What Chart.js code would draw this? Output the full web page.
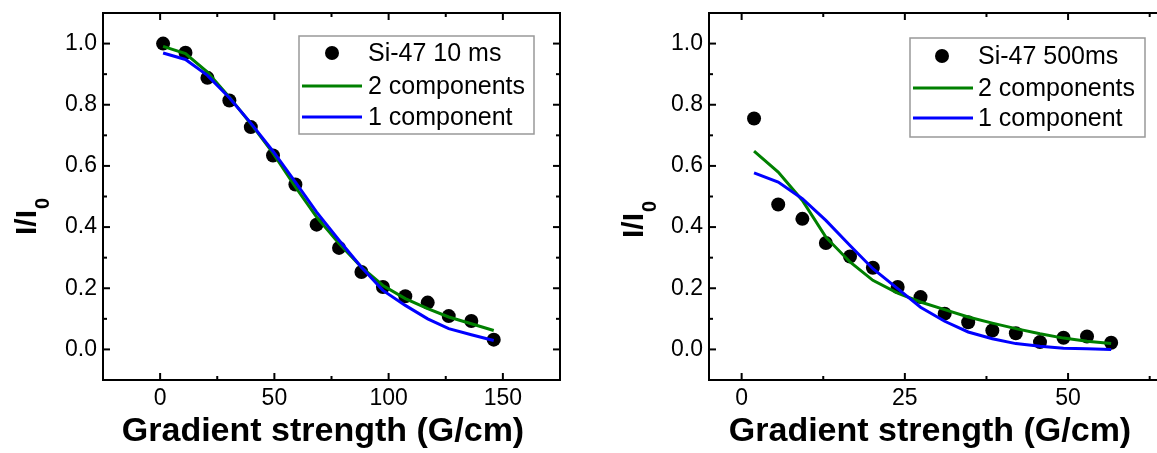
<!DOCTYPE html>
<html><head><meta charset="utf-8">
<script src="https://cdn.jsdelivr.net/npm/chart.js@4.4.1/dist/chart.umd.min.js"></script>
<style>
html,body{margin:0;padding:0;background:#fff;overflow:hidden;width:1157px;height:453px;position:relative;}
#c1{position:absolute;left:0;top:0;width:580px;height:453px;}
#c2{position:absolute;left:580px;top:0;width:600px;height:453px;}
</style></head><body>
<div id="c1"><canvas id="a"></canvas></div>
<div id="c2"><canvas id="b"></canvas></div>
<script>
// ---- Left panel: Si-47 10 ms ----
const leftX    = [1.3, 11.1, 20.7, 30.3, 39.7, 49.4, 59.2, 68.5, 78.3, 88.1, 97.5, 107.3, 117.1, 126.3, 136.2, 146.0];
const leftData = [1.000, 0.970, 0.888, 0.814, 0.727, 0.634, 0.539, 0.408, 0.332, 0.253, 0.204, 0.174, 0.153, 0.109, 0.093, 0.032];
const leftFit2 = [0.991, 0.967, 0.907, 0.825, 0.738, 0.642, 0.531, 0.433, 0.346, 0.269, 0.209, 0.166, 0.133, 0.106, 0.084, 0.062];
const leftFit1 = [0.969, 0.948, 0.896, 0.823, 0.740, 0.648, 0.547, 0.449, 0.357, 0.269, 0.193, 0.144, 0.100, 0.068, 0.048, 0.029];
const leftXTicks = [0, 50, 100, 150];
const leftXMinor = [25, 75, 125];

// ---- Right panel: Si-47 500ms ----
const rightX    = [1.9, 5.6, 9.3, 12.9, 16.6, 20.1, 23.9, 27.4, 31.1, 34.7, 38.4, 42.0, 45.7, 49.3, 52.9, 56.6];
const rightData = [0.755, 0.474, 0.427, 0.348, 0.304, 0.267, 0.204, 0.171, 0.117, 0.089, 0.062, 0.053, 0.024, 0.038, 0.042, 0.022];
const rightFit2 = [0.648, 0.580, 0.487, 0.367, 0.286, 0.226, 0.184, 0.155, 0.130, 0.106, 0.086, 0.068, 0.051, 0.037, 0.027, 0.019];
const rightFit1 = [0.577, 0.547, 0.493, 0.422, 0.340, 0.264, 0.199, 0.138, 0.092, 0.057, 0.035, 0.019, 0.010, 0.004, 0.002, 0.000];
const rightXTicks = [0, 25, 50];
const rightXMinor = [12.5, 37.5, 62.5];

// ---- shared ----
const yTicks = [0.0, 0.2, 0.4, 0.6, 0.8, 1.0];
const yMinor = [0.1, 0.3, 0.5, 0.7, 0.9];
const seriesNames = ['2 components', '1 component'];
const xTitleText = 'Gradient strength (G/cm)';
const yTitleMain = 'I/I';
const yTitleSub = '0';

const FONT = "'Liberation Sans', Arial, Helvetica, sans-serif";
Chart.defaults.color = '#000';
Chart.defaults.font.family = FONT;

const decor = {
  id: 'decor',
  afterDraw(chart, args, o) {
    const ctx = chart.ctx, ca = chart.chartArea;
    const xs = chart.scales.x, ys = chart.scales.y;
    ctx.save();
    ctx.strokeStyle = '#000';
    ctx.lineWidth = 2;
    ctx.lineCap = 'butt';
    const seg = (x0, y0, x1, y1) => { ctx.beginPath(); ctx.moveTo(x0, y0); ctx.lineTo(x1, y1); ctx.stroke(); };
    const xt = (v, len) => { const p = xs.getPixelForValue(v); seg(p, ca.bottom, p, ca.bottom - len); seg(p, ca.top, p, ca.top + len); };
    const yt = (v, len) => { const p = ys.getPixelForValue(v); seg(ca.left, p, ca.left + len, p); seg(ca.right, p, ca.right - len, p); };
    o.xMajor.forEach(v => xt(v, 7));
    o.xMinor.forEach(v => xt(v, 4));
    yTicks.forEach(v => yt(v, 7));
    yMinor.forEach(v => yt(v, 4));
    ctx.strokeRect(ca.left, ca.top, ca.right - ca.left, ca.bottom - ca.top);

    // legend
    const L = o.legend;
    ctx.fillStyle = '#fff';
    ctx.fillRect(L.box[0], L.box[1], L.box[2] - L.box[0], L.box[3] - L.box[1]);
    ctx.strokeStyle = '#999';
    ctx.lineWidth = 1.5;
    ctx.strokeRect(L.box[0], L.box[1], L.box[2] - L.box[0], L.box[3] - L.box[1]);
    ctx.font = '25px ' + FONT;
    ctx.textBaseline = 'middle';
    ctx.textAlign = 'left';
    chart.data.datasets.forEach((ds, i) => {
      const y = L.rows[i];
      if (i === 0) {
        ctx.fillStyle = '#000';
        ctx.beginPath(); ctx.arc(L.markX, y, 7, 0, Math.PI * 2); ctx.fill();
      } else {
        ctx.strokeStyle = ds.borderColor; ctx.lineWidth = 3;
        seg(L.line0, y, L.line1, y);
      }
      ctx.fillStyle = '#000';
      ctx.fillText(ds.label, L.textX, y + 1);
    });

    // x title
    ctx.font = 'bold 34px ' + FONT;
    ctx.textAlign = 'center';
    ctx.textBaseline = 'alphabetic';
    ctx.fillText(xTitleText, o.xTitle.cx, o.xTitle.y);

    // y title (rotated) with subscript
    ctx.translate(o.yTitle.x, o.yTitle.bottom);
    ctx.rotate(-Math.PI / 2);
    ctx.textAlign = 'left';
    ctx.font = 'bold 30px ' + FONT;
    ctx.fillText(yTitleMain, 0, 0);
    const w = ctx.measureText(yTitleMain).width;
    ctx.font = 'bold 20px ' + FONT;
    ctx.fillText(yTitleSub, w + 1, 13);
    ctx.restore();
  }
};

const zeroPad = s => { s.paddingTop = 0; s.paddingBottom = 0; s.paddingLeft = 0; s.paddingRight = 0; };

function makeChart(id, xv, pts, f2, f1, ptsLabel, cfg) {
  const toXY = arr => xv.map((x, i) => ({ x: x, y: arr[i] }));
  return new Chart(document.getElementById(id), {
    type: 'scatter',
    data: {
      datasets: [
        { label: ptsLabel, data: toXY(pts), showLine: false, pointRadius: 7, pointHoverRadius: 7,
          pointBackgroundColor: '#000', pointBorderWidth: 0, order: 2 },
        { label: seriesNames[0], data: toXY(f2), showLine: true, borderColor: '#008000', borderWidth: 3,
          pointRadius: 0, tension: 0, order: 1 },
        { label: seriesNames[1], data: toXY(f1), showLine: true, borderColor: '#0000ff', borderWidth: 3,
          pointRadius: 0, tension: 0, order: 0 }
      ]
    },
    options: {
      responsive: true,
      maintainAspectRatio: false,
      animation: false,
      events: [],
      layout: { padding: { top: 13, right: cfg.padRight, left: 0, bottom: 0 } },
      plugins: {
        legend: { display: false },
        tooltip: { enabled: false },
        decor: { xMajor: cfg.xTicks, xMinor: cfg.xMinor, legend: cfg.legend, xTitle: cfg.xTitle, yTitle: cfg.yTitle }
      },
      scales: {
        x: {
          type: 'linear', min: cfg.xMin, max: cfg.xMax,
          grid: { display: false, drawTicks: false },
          border: { display: false },
          afterBuildTicks: s => { s.ticks = cfg.xTicks.map(v => ({ value: v })); },
          afterFit: s => { s.height = 73; zeroPad(s); },
          ticks: { font: { size: 23 }, padding: 5, maxRotation: 0, callback: v => String(v) }
        },
        y: {
          type: 'linear', min: -0.1, max: 1.1,
          grid: { display: false, drawTicks: false },
          border: { display: false },
          afterBuildTicks: s => { s.ticks = yTicks.map(v => ({ value: v })); },
          afterFit: s => { s.width = cfg.yWidth; zeroPad(s); },
          ticks: { font: { size: 23 }, padding: 6, callback: v => Number(v).toFixed(1) }
        }
      }
    },
    plugins: [decor]
  });
}

makeChart('a', leftX, leftData, leftFit2, leftFit1, 'Si-47 10 ms', {
  xMin: -25, xMax: 175, xTicks: leftXTicks, xMinor: leftXMinor, padRight: 20, yWidth: 103,
  legend: { box: [299, 36, 534, 134], rows: [53, 86, 117], markX: 332, line0: 302, line1: 362, textX: 368 },
  xTitle: { cx: 323, y: 441 },
  yTitle: { x: 36, bottom: 235 }
});
makeChart('b', rightX, rightData, rightFit2, rightFit1, 'Si-47 500ms', {
  xMin: -5, xMax: 65, xTicks: rightXTicks, xMinor: rightXMinor, padRight: 14, yWidth: 129,
  legend: { box: [330, 38, 565, 137], rows: [56, 88, 118], markX: 362, line0: 333, line1: 393, textX: 398 },
  xTitle: { cx: 350, y: 441 },
  yTitle: { x: 63, bottom: 238 }
});
</script>
</body></html>
